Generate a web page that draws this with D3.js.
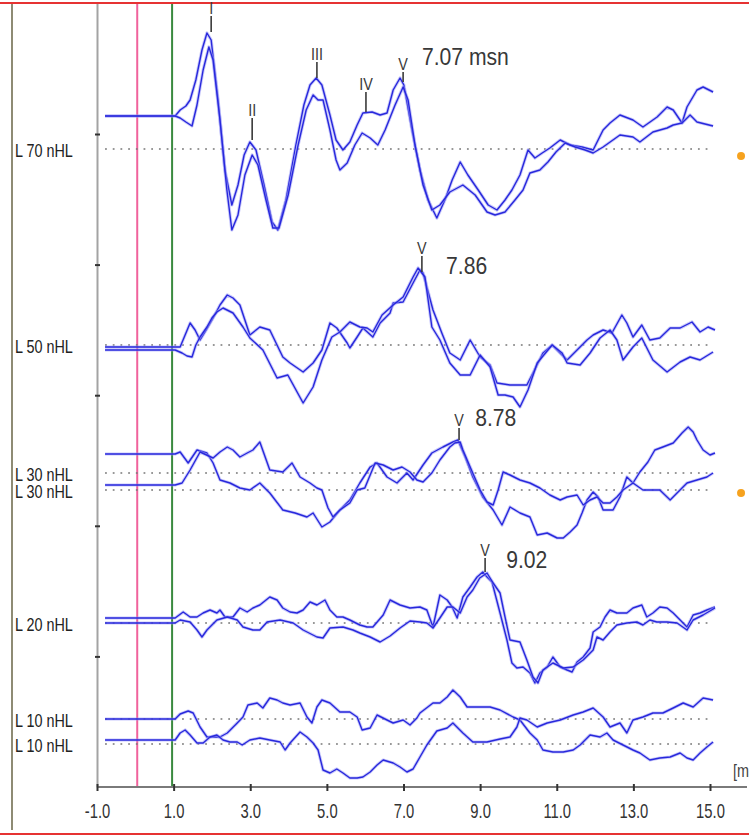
<!DOCTYPE html>
<html><head><meta charset="utf-8">
<script src="https://cdn.jsdelivr.net/npm/d3@7/dist/d3.min.js"></script>
<style>
html,body{margin:0;padding:0;background:#fff;overflow:hidden}
svg{display:block}
text{font-family:"Liberation Sans",Arial,sans-serif}
</style></head><body>
<svg id="chart" width="749" height="837"></svg>
<script>
// ---------- data ----------
const levelNames = ["L 70 nHL","L 50 nHL","L 30 nHL","L 30 nHL","L 20 nHL","L 10 nHL","L 10 nHL"];
// baseline of each level on the stacked amplitude axis (µV)
const levelBaselines = [6.38, 4.42, 3.14, 2.97, 1.64, 0.68, 0.43];

const xTickValues = [-1, 1, 3, 5, 7, 9, 11, 13, 15];
const xTickLabels = ["-1.0","1.0","3.0","5.0","7.0","9.0","11.0","13.0","15.0"];
const yTickValues = [1.306, 2.612, 3.918, 5.224, 6.53];
const cursorTimes = [0.05, 0.96]; // pink and green cursors (ms)

// traces: [time ms, amplitude µV relative to level baseline]
const trace70a = [[-0.79,.33],[1.04,.33],[1.17,.39],[1.32,.43],[1.43,.49],[1.58,.69],[1.74,.99],[1.87,1.16],[1.98,1.09],[2.16,.49],[2.34,-.21],[2.52,-.56],[2.68,-.36],[2.84,-.06],[2.99,.07],[3.15,-.01],[3.36,-.36],[3.57,-.73],[3.72,-.81],[3.93,-.51],[4.19,.04],[4.40,.44],[4.56,.64],[4.72,.71],[4.87,.64],[5.08,.34],[5.24,.09],[5.42,-.01],[5.60,.07],[5.79,.24],[5.94,.36],[6.18,.37],[6.39,.34],[6.57,.36],[6.73,.59],[6.91,.71],[7.01,.64],[7.22,.19],[7.43,-.21],[7.64,-.51],[7.87,-.69],[8.08,-.51],[8.27,-.31],[8.48,-.13],[8.68,-.26],[8.95,-.41],[9.21,-.56],[9.44,-.61],[9.65,-.51],[9.83,-.41],[10.04,-.26],[10.25,-.01],[10.43,-.09],[10.62,-.04],[10.82,.01],[11.09,.09],[11.35,.04],[11.66,.02],[11.95,-.01],[12.21,.19],[12.39,.26],[12.65,.34],[12.99,.29],[13.25,.22],[13.62,.32],[13.88,.42],[14.04,.39],[14.27,.26],[14.40,.42],[14.66,.59],[14.82,.62],[15.08,.57]];
const trace70b = [[-0.79,.33],[1.04,.33],[1.17,.31],[1.32,.27],[1.48,.23],[1.61,.44],[1.77,.79],[1.92,1.02],[2.03,.89],[2.21,.29],[2.39,-.41],[2.52,-.81],[2.68,-.66],[2.86,-.26],[3.05,-.06],[3.20,-.16],[3.41,-.51],[3.59,-.79],[3.75,-.79],[3.99,-.46],[4.25,.04],[4.46,.39],[4.64,.54],[4.77,.49],[4.90,.49],[5.08,.19],[5.24,-.11],[5.34,-.21],[5.53,-.14],[5.73,.04],[5.92,.16],[6.13,.11],[6.33,.04],[6.52,.19],[6.78,.44],[6.99,.62],[7.12,.49],[7.30,.04],[7.51,-.36],[7.74,-.61],[7.95,-.56],[8.21,-.43],[8.55,-.36],[8.87,-.46],[9.18,-.63],[9.39,-.66],[9.65,-.63],[9.91,-.51],[10.12,-.41],[10.30,-.24],[10.56,-.21],[10.77,-.13],[10.98,-.03],[11.22,.06],[11.48,.02],[11.74,-.01],[11.95,-.04],[12.21,.02],[12.65,.14],[12.99,.12],[13.17,.07],[13.51,.17],[13.88,.21],[14.04,.24],[14.27,.26],[14.48,.34],[14.66,.27],[15.08,.23]];
const trace50a = [[-0.79,-.02],[1.04,-.02],[1.17,-.02],[1.30,.10],[1.43,.22],[1.56,.15],[1.69,.05],[1.85,.15],[2.03,.27],[2.21,.40],[2.40,.50],[2.55,.47],[2.73,.40],[2.99,.10],[3.25,.18],[3.51,.15],[3.85,-.12],[4.04,-.18],[4.38,-.27],[4.64,-.18],[4.87,-.05],[5.08,.22],[5.26,.17],[5.53,.02],[5.60,-.03],[5.79,.08],[5.94,.17],[6.20,.08],[6.39,.22],[6.65,.32],[6.73,.42],[6.99,.43],[7.25,.62],[7.43,.75],[7.51,.72],[7.77,.35],[8.00,.12],[8.21,-.08],[8.48,-.15],[8.74,.05],[9.00,-.12],[9.26,-.20],[9.44,-.38],[9.78,-.40],[10.22,-.40],[10.38,-.28],[10.64,-.08],[10.88,.00],[11.14,-.10],[11.27,-.15],[11.53,-.05],[11.79,.05],[11.95,.10],[12.21,.15],[12.44,.12],[12.70,.30],[12.83,.22],[12.99,.08],[13.22,.20],[13.43,.05],[13.69,.07],[13.96,.17],[14.22,.17],[14.53,.23],[14.74,.13],[14.95,.18],[15.13,.15]];
const trace50b = [[-0.79,-.05],[1.04,-.05],[1.22,-.08],[1.35,-.11],[1.48,-.12],[1.58,.00],[1.69,.08],[1.87,.18],[2.00,.27],[2.13,.33],[2.29,.37],[2.55,.32],[2.81,.18],[2.99,.07],[3.33,-.05],[3.70,-.33],[3.98,-.30],[4.38,-.58],[4.64,-.42],[4.87,-.15],[5.13,.08],[5.34,.13],[5.60,.23],[5.86,.18],[6.05,.17],[6.20,.13],[6.44,.30],[6.73,.40],[6.99,.48],[7.25,.68],[7.38,.77],[7.56,.68],[7.74,.18],[7.95,.05],[8.21,-.18],[8.48,-.30],[8.74,-.30],[9.00,-.10],[9.26,-.22],[9.47,-.50],[9.65,-.50],[9.86,-.52],[10.04,-.62],[10.25,-.45],[10.49,-.18],[10.88,.00],[11.14,-.08],[11.27,-.18],[11.61,-.20],[11.87,-.08],[12.13,.07],[12.39,.15],[12.57,.05],[12.73,-.15],[12.99,-.02],[13.22,.07],[13.51,-.15],[13.88,-.27],[14.22,-.17],[14.48,-.12],[14.74,-.15],[15.08,-.07]];
const trace30a = [[-0.79,.19],[1.04,.19],[1.17,.21],[1.38,.10],[1.61,.23],[1.87,.20],[2.03,.10],[2.21,-.07],[2.47,-.10],[2.73,-.15],[2.99,-.17],[3.25,-.10],[3.51,-.20],[3.85,-.37],[4.17,-.40],[4.48,-.44],[4.64,-.40],[4.87,-.54],[5.08,-.49],[5.34,-.37],[5.60,-.27],[5.86,-.10],[6.13,.06],[6.31,.10],[6.57,-.04],[6.83,-.10],[7.09,.00],[7.25,-.07],[7.51,.08],[7.74,.20],[8.03,.26],[8.29,.31],[8.42,.33],[8.61,.16],[8.81,-.04],[9.07,-.24],[9.34,-.37],[9.57,-.52],[9.78,-.34],[10.04,-.40],[10.30,-.44],[10.49,-.62],[10.75,-.60],[11.01,-.65],[11.17,-.65],[11.35,-.59],[11.53,-.52],[11.66,-.40],[11.79,-.27],[11.95,-.19],[12.08,-.24],[12.21,-.37],[12.47,-.37],[12.65,-.24],[12.83,-.04],[12.99,-.10],[13.17,.01],[13.38,.11],[13.56,.23],[13.77,.26],[14.04,.30],[14.27,.40],[14.43,.46],[14.56,.41],[14.66,.33],[14.82,.23],[15.00,.18],[15.13,.20]];
const trace30b = [[-0.79,.05],[1.04,.05],[1.22,.07],[1.43,.20],[1.69,.38],[2.03,.32],[2.21,.38],[2.40,.43],[2.55,.40],[2.73,.33],[2.92,.37],[3.07,.40],[3.25,.48],[3.51,.20],[3.85,.18],[4.09,.27],[4.30,.13],[4.56,.07],[4.74,.02],[4.87,.00],[5.03,-.18],[5.16,-.27],[5.34,-.20],[5.60,-.13],[5.79,.00],[5.99,.02],[6.26,.27],[6.47,.25],[6.73,.20],[6.96,.23],[7.17,.18],[7.35,.10],[7.51,.08],[7.74,.17],[7.95,.30],[8.21,.43],[8.34,.47],[8.48,.48],[8.55,.40],[8.74,.23],[9.00,.00],[9.18,-.12],[9.34,-.15],[9.47,.00],[9.60,.18],[9.78,.15],[10.04,.10],[10.30,.07],[10.56,.02],[10.82,-.05],[11.09,-.10],[11.27,-.07],[11.53,-.05],[11.69,-.15],[11.87,-.10],[12.05,-.07],[12.21,-.13],[12.39,-.13],[12.57,-.07],[12.73,.00],[12.99,.07],[13.25,.00],[13.51,.00],[13.69,.00],[13.96,-.10],[14.14,-.03],[14.40,.07],[14.66,.10],[14.92,.13],[15.08,.17]];
const trace20a = [[-0.79,.05],[1.04,.05],[1.25,.11],[1.43,.06],[1.61,.06],[1.77,.10],[1.95,.13],[2.13,.10],[2.21,.13],[2.34,.06],[2.55,.06],[2.73,.15],[2.92,.11],[3.07,.15],[3.25,.18],[3.51,.26],[3.70,.23],[3.85,.15],[4.04,.11],[4.22,.10],[4.38,.13],[4.56,.21],[4.74,.18],[4.95,.23],[5.08,.13],[5.26,.06],[5.42,.06],[5.60,.03],[5.86,-.02],[6.05,-.04],[6.20,-.04],[6.47,.08],[6.65,.23],[6.91,.18],[7.17,.15],[7.43,.16],[7.61,.13],[7.77,-.04],[7.95,.28],[8.14,.23],[8.27,.16],[8.40,.05],[8.55,.26],[8.74,.36],[8.92,.46],[9.07,.51],[9.18,.46],[9.31,.41],[9.52,.10],[9.70,-.17],[9.83,-.40],[9.96,-.45],[10.12,-.44],[10.30,-.50],[10.43,-.60],[10.56,-.50],[10.75,-.44],[10.90,-.34],[11.09,-.44],[11.27,-.47],[11.40,-.49],[11.53,-.39],[11.69,-.34],[11.87,-.25],[11.95,-.09],[12.13,-.04],[12.26,.06],[12.39,.13],[12.57,.10],[12.83,.10],[12.99,.15],[13.22,.18],[13.35,.06],[13.51,.10],[13.69,.16],[13.88,.15],[14.04,.10],[14.22,.03],[14.40,-.04],[14.56,.08],[14.74,.10],[14.92,.13],[15.13,.16]];
const trace20b = [[-0.79,0],[1.04,0],[1.17,.03],[1.43,.01],[1.61,-.07],[1.74,-.14],[1.87,-.07],[2.13,.03],[2.40,.06],[2.66,.03],[2.81,-.04],[3.07,-.07],[3.25,-.07],[3.44,.01],[3.78,.03],[4.12,.00],[4.38,-.07],[4.74,-.14],[4.90,-.15],[5.08,-.05],[5.42,-.04],[5.68,-.07],[5.86,-.10],[6.13,-.14],[6.39,-.19],[6.65,-.13],[6.91,-.05],[7.17,.02],[7.43,.01],[7.61,.00],[7.77,-.05],[7.95,.05],[8.14,.16],[8.29,.16],[8.48,.10],[8.66,.26],[8.81,.33],[8.99,.45],[9.18,.50],[9.34,.40],[9.52,.30],[9.65,.06],[9.78,-.17],[10.04,-.19],[10.22,-.37],[10.38,-.54],[10.51,-.60],[10.64,-.47],[10.90,-.40],[11.17,-.45],[11.43,-.44],[11.69,-.37],[11.95,-.27],[12.05,-.14],[12.21,-.17],[12.39,-.09],[12.57,-.02],[12.83,.00],[13.09,.01],[13.25,-.02],[13.43,.03],[13.61,.01],[13.88,.01],[14.14,.00],[14.40,-.07],[14.56,.03],[14.82,.08],[15.13,.15]];
const trace10a = [[-0.79,0],[1.04,0],[1.17,.05],[1.38,.08],[1.51,.06],[1.69,-.08],[1.87,-.18],[2.03,-.18],[2.21,-.18],[2.40,-.14],[2.66,-.04],[2.81,.02],[2.94,.14],[3.18,.16],[3.33,.11],[3.51,.21],[3.70,.19],[3.85,.16],[4.04,.14],[4.30,.16],[4.48,.02],[4.61,-.04],[4.74,.12],[4.87,.19],[5.08,.16],[5.34,.07],[5.60,.07],[5.79,.02],[5.92,-.11],[6.13,-.09],[6.31,.04],[6.57,-.01],[6.73,-.04],[6.99,-.01],[7.17,-.06],[7.35,.01],[7.43,.06],[7.77,.16],[7.95,.16],[8.14,.22],[8.29,.29],[8.48,.22],[8.66,.12],[9.00,.12],[9.26,.12],[9.52,.09],[9.86,.02],[10.04,-.01],[10.30,-.14],[10.49,-.21],[10.64,-.31],[10.90,-.33],[11.17,-.33],[11.43,-.31],[11.61,-.26],[11.87,-.16],[12.13,-.18],[12.31,-.14],[12.47,-.21],[12.73,-.26],[12.99,-.31],[13.17,-.34],[13.43,-.41],[13.69,-.39],[13.96,-.38],[14.22,-.34],[14.40,-.39],[14.56,-.41],[14.74,-.34],[14.92,-.28],[15.08,-.23]];
const trace10b = [[-0.79,.04],[1.04,.04],[1.17,.11],[1.30,.14],[1.43,.09],[1.61,.01],[1.77,.01],[1.95,.07],[2.13,.09],[2.29,.04],[2.47,.02],[2.66,.02],[2.79,-.01],[2.99,.04],[3.25,.06],[3.51,.04],[3.78,.02],[3.91,-.06],[4.04,.01],[4.30,.12],[4.48,.07],[4.64,.01],[4.77,-.06],[4.90,-.26],[5.08,-.29],[5.26,-.25],[5.42,-.29],[5.60,-.34],[5.79,-.34],[5.94,-.33],[6.13,-.28],[6.31,-.21],[6.47,-.16],[6.73,-.19],[6.91,-.23],[7.09,-.28],[7.25,-.25],[7.43,-.13],[7.61,-.01],[7.87,.13],[8.14,.16],[8.29,.21],[8.55,.11],[8.81,.02],[9.18,.02],[9.52,.05],[9.78,.07],[9.96,.17],[10.04,.26],[10.22,.24],[10.49,.17],[10.75,.21],[11.09,.24],[11.43,.29],[11.69,.32],[11.95,.36],[12.21,.27],[12.39,.17],[12.65,.21],[12.83,.11],[12.99,.24],[13.25,.27],[13.51,.31],[13.77,.31],[14.04,.36],[14.30,.41],[14.56,.37],[14.82,.46],[15.08,.44]];

const traces = [trace70a, trace70b, trace50a, trace50b, trace30a, trace30b, trace20a, trace20b, trace10a, trace10b];
const traceLevel = [0, 0, 1, 1, 2, 3, 4, 4, 5, 6];

// peak markers: level index, label, latency (ms), amplitude at tick foot (µV)
const markerLevel = [0, 0, 0, 0, 0, 1, 2, 4];
const markerLabel = ["I", "II", "III", "IV", "V", "V", "V", "V"];
const markerTime  = [1.98, 3.05, 4.74, 6.02, 6.99, 7.48, 8.45, 9.13];
const markerAmp   = [1.17, 0.09, 0.71, 0.37, 0.67, 0.73, 0.33, 0.51];
const markerLen   = [16, 22, 16, 20, 10, 16, 12, 14];

// latency read-outs
const latencyText  = ["7.07 msn", "7.86", "8.78", "9.02"];
const latencyLevel = [0, 1, 2, 4];
const latencyTime  = [7.48, 8.11, 8.87, 9.68];
const latencyAmp   = [0.84, 0.71, 0.47, 0.55];

// orange flags
const flagLevel = [0, 3];
const flagTime  = [15.81, 15.81];
const flagAmp   = [-0.07, -0.03];

// ---------- drawing ----------
const svg = d3.select("#chart");
const x = d3.scaleLinear().domain([-1, 15]).range([97, 710]);
const y = d3.scaleLinear().domain([0, 7.835]).range([787, 3.5]);

// frame
svg.append("line").attr("x1",0).attr("x2",749).attr("y1",3).attr("y2",3).attr("stroke","#e63232").attr("stroke-width",2);
svg.append("line").attr("x1",0).attr("x2",749).attr("y1",834).attr("y2",834).attr("stroke","#e63232").attr("stroke-width",2);
svg.append("line").attr("x1",12).attr("x2",12).attr("y1",4).attr("y2",830).attr("stroke","#8e8b74").attr("stroke-width",2);

// cursors
const cursorColors = ["#f0629c", "#3a8a3f"];
svg.selectAll("line.cursor").data(cursorTimes).join("line").attr("class","cursor")
  .attr("x1", d => x(d)).attr("x2", d => x(d)).attr("y1", 4).attr("y2", 787)
  .attr("stroke", (d,i) => cursorColors[i]).attr("stroke-width", 2);

// y axis
const yAxis = svg.append("g").attr("transform", `translate(${x(-1)},0)`)
  .call(d3.axisLeft(y).tickValues(yTickValues).tickSizeOuter(0).tickFormat(""));
yAxis.select(".domain").attr("stroke","#a3a3a3").attr("stroke-width",2);
yAxis.selectAll(".tick line").attr("x1",-2).attr("x2",3).attr("stroke","#333").attr("stroke-width",2);

// x axis
const xAxis = svg.append("g").attr("transform", `translate(0,${y(0)})`)
  .call(d3.axisBottom(x).tickValues(xTickValues).tickSizeOuter(0)
    .tickFormat((d,i) => xTickLabels[i]));
xAxis.select(".domain").attr("d", `M${x(-1)},0H747`).attr("stroke","#7a7a7a").attr("stroke-width",2);
xAxis.selectAll(".tick line").attr("y1",-3).attr("y2",4).attr("stroke","#333").attr("stroke-width",2);
xAxis.selectAll(".tick text").attr("y",0).attr("dy",0)
  .attr("transform","translate(0,31) scale(0.74,1)")
  .attr("font-size",20).attr("fill","#333")
  .attr("font-family",'"Liberation Sans",Arial,sans-serif');
svg.append("text").attr("transform","translate(733,777) scale(0.8,1)")
  .attr("font-size",18).attr("fill","#444").text("[ms]");

// baselines (dotted)
svg.selectAll("line.base").data(levelBaselines).join("line").attr("class","base")
  .attr("x1", x(-0.79)).attr("x2", x(15.06))
  .attr("y1", d => y(d)).attr("y2", d => y(d))
  .attr("stroke","#777").attr("stroke-width",1.6).attr("stroke-dasharray","1.8,5.9");

// level labels
svg.selectAll("text.lvl").data(levelNames).join("text").attr("class","lvl")
  .attr("transform", (d,i) => `translate(15,${y(levelBaselines[i]) + 8}) scale(0.8,1)`)
  .attr("font-size",18).attr("fill","#222").text(d => d);

// traces
const line = d3.line();
traces.forEach((tr, i) => {
  const b = levelBaselines[traceLevel[i]];
  const pts = tr.map(p => [x(p[0]), y(b + p[1])]);
  svg.append("path").attr("d", line(pts)).attr("fill","none")
    .attr("stroke","#9a9af6").attr("stroke-width",3.2).attr("stroke-opacity",0.55)
    .attr("stroke-linejoin","round");
  svg.append("path").attr("d", line(pts)).attr("fill","none")
    .attr("stroke","#2828dc").attr("stroke-width",1.4)
    .attr("stroke-linejoin","round");
});

// peak markers
markerLabel.forEach((lab, i) => {
  const px = x(markerTime[i]);
  const py = y(levelBaselines[markerLevel[i]] + markerAmp[i]);
  svg.append("line").attr("x1",px).attr("x2",px).attr("y1",py).attr("y2",py - markerLen[i])
    .attr("stroke","#3a3a3a").attr("stroke-width",1.6);
  svg.append("text").attr("transform",`translate(${px},${py - markerLen[i] - 2}) scale(0.9,1)`)
    .attr("text-anchor","middle").attr("font-size",16).attr("fill","#3a3a3a").text(lab);
});

// latency text
latencyText.forEach((t, i) => {
  svg.append("text")
    .attr("transform",`translate(${x(latencyTime[i])},${y(levelBaselines[latencyLevel[i]] + latencyAmp[i])}) scale(0.92,1)`)
    .attr("font-size",23).attr("fill","#383838").text(t);
});

// flags
flagLevel.forEach((lv, i) => {
  svg.append("circle").attr("cx", x(flagTime[i])).attr("cy", y(levelBaselines[lv] + flagAmp[i]))
    .attr("r",4).attr("fill","#f6a21e");
});
</script>
</body></html>
